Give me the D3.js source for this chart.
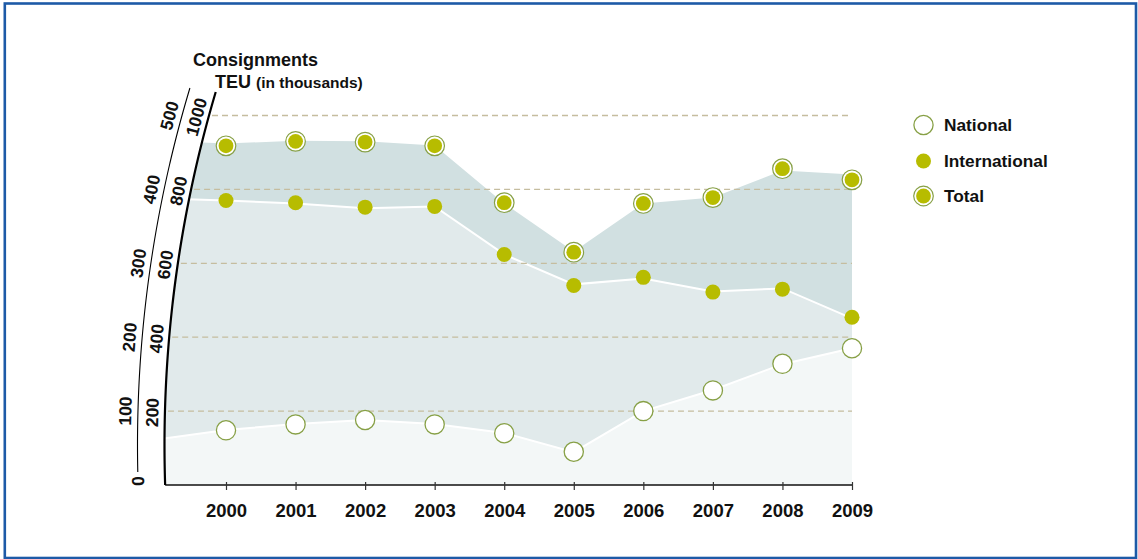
<!DOCTYPE html>
<html>
<head>
<meta charset="utf-8">
<script src="https://cdn.jsdelivr.net/npm/d3@7/dist/d3.min.js"></script>
<style>
  html, body { margin: 0; padding: 0; background: #fff; }
  svg { display: block; }
  text { font-family: "Liberation Sans", Arial, Helvetica, sans-serif; fill: #111; }
</style>
</head>
<body>
<svg id="chart" width="1138" height="559"></svg>
<script>
// ---- data ----
const years = [2000, 2001, 2002, 2003, 2004, 2005, 2006, 2007, 2008, 2009];
// Consignments (dots, outer axis 0-500)
const consNational      = [74, 82, 88, 82, 70, 45, 100, 128, 164, 185];
const consInternational = [385, 382, 376, 377, 312, 270, 281, 261, 265, 227];
const consTotal         = [459, 465, 464, 459, 382, 315, 381, 389, 428, 413];
// TEU in thousands (areas, inner axis 0-1000); first point lies behind the curved axis
const teuYears         = [1999, 2000, 2001, 2002, 2003, 2004, 2005, 2006, 2007, 2008, 2009];
const teuTotal         = [932, 924, 932, 930, 919, 762, 632, 762, 778, 851, 840];
const teuInternational = [776, 770, 762, 749, 754, 624, 543, 559, 524, 532, 451];
const teuNational      = [123, 149, 165, 176, 165, 141, 89, 200, 257, 327, 370];
// ticks
const teuTicks  = [200, 400, 600, 800, 1000];
const consTicks = [0, 100, 200, 300, 400, 500];
const legendLabels = ["National", "International", "Total"];

// ---- setup ----
const svg = d3.select("#chart");
const W = 1138, H = 559;
const yBase = 485;

const x = d3.scaleLinear().domain([2000, 2009]).range([226, 852]);
const yTeu = d3.scaleLinear().domain([0, 1000]).range([yBase, 115.5]);
const yCons = d3.scaleLinear().domain([0, 500]).range([yBase, 115.5]);

// curved axis geometry (circle arc)
const R = 1242, cy = 445, cx = 164.5 + R;
const innerX = y => cx - Math.sqrt(R * R - (y - cy) * (y - cy));
const outerShift = 27;
const outerX = y => innerX(y) - outerShift;
const tangentDeg = y => {
  const s = Math.sqrt(R * R - (y - cy) * (y - cy));
  return -90 + Math.atan((cy - y) / s) * 180 / Math.PI;
};

const COL_TOP = "#d1e0e1", COL_MID = "#e1eaeb", COL_BOT = "#f3f7f7";
const GREEN = "#b7bc00", OLIVE = "#87a046";

// border
svg.append("rect")
  .attr("x", 4.8).attr("y", 3.5).attr("width", 1131.2).attr("height", 554.5)
  .attr("fill", "none").attr("stroke", "#1d5aa7").attr("stroke-width", 2.6);

// clip path: region right of inner arc
const clipPts = d3.range(60, yBase + 1, 2).map(y => [innerX(y), y]);
const clipPoly = [[innerX(60), 0], ...clipPts, [innerX(yBase), yBase], [W, yBase], [W, 0]];
svg.append("defs").append("clipPath").attr("id", "arcClip")
  .append("path").attr("d", d3.line()(clipPoly) + "Z");

const gArea = svg.append("g").attr("clip-path", "url(#arcClip)");
const mkArea = arr => d3.area()
  .x((d, i) => x(teuYears[i]))
  .y0(yTeu(0))
  .y1((d, i) => yTeu(arr[i]));
const mkLine = arr => d3.line()
  .x((d, i) => x(teuYears[i]))
  .y((d, i) => yTeu(arr[i]));

gArea.append("path").datum(teuTotal).attr("d", mkArea(teuTotal)).attr("fill", COL_TOP);
gArea.append("path").datum(teuInternational).attr("d", mkArea(teuInternational)).attr("fill", COL_MID);
gArea.append("path").datum(teuInternational).attr("d", mkLine(teuInternational))
  .attr("fill", "none").attr("stroke", "#fff").attr("stroke-width", 2);
gArea.append("path").datum(teuNational).attr("d", mkArea(teuNational)).attr("fill", COL_BOT);
gArea.append("path").datum(teuNational).attr("d", mkLine(teuNational))
  .attr("fill", "none").attr("stroke", "#fff").attr("stroke-width", 2);

// gridlines
svg.append("g").selectAll("line").data(teuTicks).join("line")
  .attr("x1", d => innerX(yTeu(d)) + 3)
  .attr("x2", x(2009))
  .attr("y1", d => yTeu(d)).attr("y2", d => yTeu(d))
  .attr("stroke", "#c5bd9f").attr("stroke-width", 1.3)
  .attr("stroke-dasharray", "6,4");

// x axis
svg.append("line")
  .attr("x1", innerX(yBase)).attr("x2", x(2009))
  .attr("y1", yBase).attr("y2", yBase)
  .attr("stroke", "#111").attr("stroke-width", 1.6);
const xAxis = d3.axisBottom(x).tickValues(years).tickFormat(d3.format("d")).tickSize(5).tickPadding(14);
const gx = svg.append("g").attr("transform", `translate(0,${yBase})`).call(xAxis);
gx.select(".domain").remove();
gx.selectAll(".tick line").attr("y1", -3).attr("y2", 5).attr("stroke", "#333").attr("stroke-width", 1.2);
gx.selectAll(".tick text")
  .attr("font-family", "Liberation Sans, Arial, sans-serif")
  .attr("font-size", 18.5).attr("font-weight", "bold").attr("fill", "#111");

// curved axes
const innerPts = d3.range(92, yBase + 0.5, 1).map(y => [innerX(y), y]);
svg.append("path").attr("d", d3.line()(innerPts))
  .attr("fill", "none").attr("stroke", "#000").attr("stroke-width", 2.2);
const outerPts = d3.range(88, 472.5, 1).map(y => [outerX(y), y]);
svg.append("path").attr("d", d3.line()(outerPts))
  .attr("fill", "none").attr("stroke", "#000").attr("stroke-width", 1.1);

// tick labels along arcs
svg.append("g").selectAll("text").data(teuTicks).join("text")
  .attr("transform", d => {
    const y = yTeu(d);
    return `translate(${innerX(y) - 12.5},${y + 1.5}) rotate(${tangentDeg(y)})`;
  })
  .attr("text-anchor", "middle").attr("dominant-baseline", "central")
  .attr("font-size", 17.5).attr("font-weight", "bold")
  .text(d => d);

svg.append("g").selectAll("text").data(consTicks).join("text")
  .attr("transform", d => {
    const y = yCons(d);
    if (d === 0) {
      const yy = y - 4;
      return `translate(${outerX(yy)},${yy}) rotate(${tangentDeg(yy)})`;
    }
    return `translate(${outerX(y) - 12.5},${y}) rotate(${tangentDeg(y)})`;
  })
  .attr("text-anchor", "middle").attr("dominant-baseline", "central")
  .attr("font-size", 17.5).attr("font-weight", "bold")
  .text(d => d);

// titles
svg.append("text").attr("x", 193).attr("y", 66)
  .attr("font-size", 18).attr("font-weight", "bold").text("Consignments");
const t2 = svg.append("text").attr("x", 215).attr("y", 88)
  .attr("font-size", 18).attr("font-weight", "bold");
t2.append("tspan").text("TEU ");
t2.append("tspan").attr("font-size", 15.5).text("(in thousands)");

// markers
function national(g) {
  g.append("circle").attr("r", 9.6).attr("fill", "#fff")
    .attr("stroke", OLIVE).attr("stroke-width", 1.3);
}
function international(g) {
  g.append("circle").attr("r", 7.5).attr("fill", GREEN);
}
function total(g) {
  g.append("circle").attr("r", 9.8).attr("fill", "#fff")
    .attr("stroke", OLIVE).attr("stroke-width", 1.2);
  g.append("circle").attr("r", 7.4).attr("fill", GREEN);
}

const gDots = svg.append("g");
gDots.selectAll("g.nat").data(years).join("g").attr("class", "nat")
  .attr("transform", (d, i) => `translate(${x(d)},${yCons(consNational[i])})`)
  .each(function () { national(d3.select(this)); });
gDots.selectAll("g.int").data(years).join("g").attr("class", "int")
  .attr("transform", (d, i) => `translate(${x(d)},${yCons(consInternational[i])})`)
  .each(function () { international(d3.select(this)); });
gDots.selectAll("g.tot").data(years).join("g").attr("class", "tot")
  .attr("transform", (d, i) => `translate(${x(d)},${yCons(consTotal[i])})`)
  .each(function () { total(d3.select(this)); });

// legend
const legY = [125, 161, 196];
const legFns = [national, international, total];
legendLabels.forEach((lab, i) => {
  const g = svg.append("g").attr("transform", `translate(923.5,${legY[i]})`);
  legFns[i](g);
  g.append("text").attr("x", 20.5).attr("y", 6)
    .attr("font-size", 17.3).attr("font-weight", "bold").text(lab);
});
</script>
</body>
</html>
